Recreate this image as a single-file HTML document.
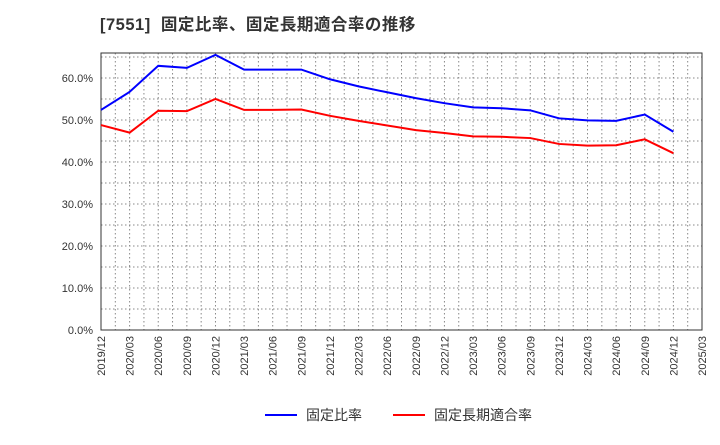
<!DOCTYPE html>
<html><head><meta charset="utf-8"><style>
body{margin:0;background:#fff;font-family:"Liberation Sans","Noto Sans CJK JP",sans-serif}
</style></head><body>
<svg width="720" height="440" xmlns="http://www.w3.org/2000/svg" id="chart">
<text x="100" y="30" font-size="16.5" font-weight="bold" letter-spacing="0.5" fill="#333" font-family="Liberation Sans,Noto Sans CJK JP,sans-serif" xml:space="preserve">[7551]  固定比率、固定長期適合率の推移</text>
</svg>
<script>
const categories=["2019/12","2020/03","2020/06","2020/09","2020/12","2021/03","2021/06","2021/09","2021/12","2022/03","2022/06","2022/09","2022/12","2023/03","2023/06","2023/09","2023/12","2024/03","2024/06","2024/09","2024/12","2025/03"];
const fixedRatio=[52.4,56.7,62.9,62.4,65.5,62.0,62.0,62.0,59.7,58.0,56.6,55.2,54.0,53.0,52.8,52.3,50.4,49.9,49.8,51.3,47.2];
const fixedLongTermRatio=[48.8,47.0,52.2,52.1,55.0,52.4,52.4,52.5,51.0,49.8,48.7,47.6,46.9,46.1,46.0,45.7,44.3,43.9,44.0,45.4,42.1];
const yTicks=[0,10,20,30,40,50,60];
const seriesNames=["固定比率","固定長期適合率"];
const NS="http://www.w3.org/2000/svg";
const svg=document.getElementById('chart');
const L=101,R=702,T=53,B=330;
const xs=i=>L+i*(R-L)/(categories.length-1);
const ys=v=>B-v*4.2;
function mk(t,a){const e=document.createElementNS(NS,t);for(const k in a)e.setAttribute(k,a[k]);svg.appendChild(e);return e;}
for(let i=0;i<categories.length*2-1;i++){const x=L+i*(R-L)/((categories.length-1)*2);
const g=mk('line',{x1:x,x2:x,y1:T,y2:B,stroke:'#888','stroke-dasharray':'1.5,2.5','stroke-width':1});

}
for(let j=0;j<=13;j++){const y=B-j*21;if(y<T)break;
const g=mk('line',{x1:L,x2:R,y1:y,y2:y,stroke:'#888','stroke-dasharray':'1.5,2.5','stroke-width':1});

}
const fr=mk('rect',{x:L,y:T,width:R-L,height:B-T,fill:'none',stroke:'#333','stroke-width':1});


yTicks.forEach(v=>{const t=mk('text',{x:L-8,y:ys(v)+4,'text-anchor':'end','font-size':11,fill:'#333'});t.textContent=v.toFixed(1)+'%';

});
categories.forEach((c,i)=>{const x=xs(i);const t=mk('text',{x:x+4,y:B+6,'text-anchor':'end','font-size':11,fill:'#333',transform:`rotate(-90 ${x+4} ${B+6})`});t.textContent=c;

});
[[fixedRatio,'#0000ff','fixed-ratio-line'],[fixedLongTermRatio,'#ff0000','fixed-long-term-ratio-line']].forEach(([d,c,n])=>{
const p=mk('polyline',{points:d.map((v,i)=>xs(i)+','+ys(v)).join(' '),fill:'none',stroke:c,'stroke-width':2});

});
[[265,'#0000ff',seriesNames[0]],[393,'#ff0000',seriesNames[1]]].forEach(([x,c,s],k)=>{
const l=mk('line',{x1:x,x2:x+32,y1:415,y2:415,stroke:c,'stroke-width':2});


const t=mk('text',{x:x+41,y:420,'font-size':14,fill:'#333'});t.textContent=s;

});
</script>
</body></html>
